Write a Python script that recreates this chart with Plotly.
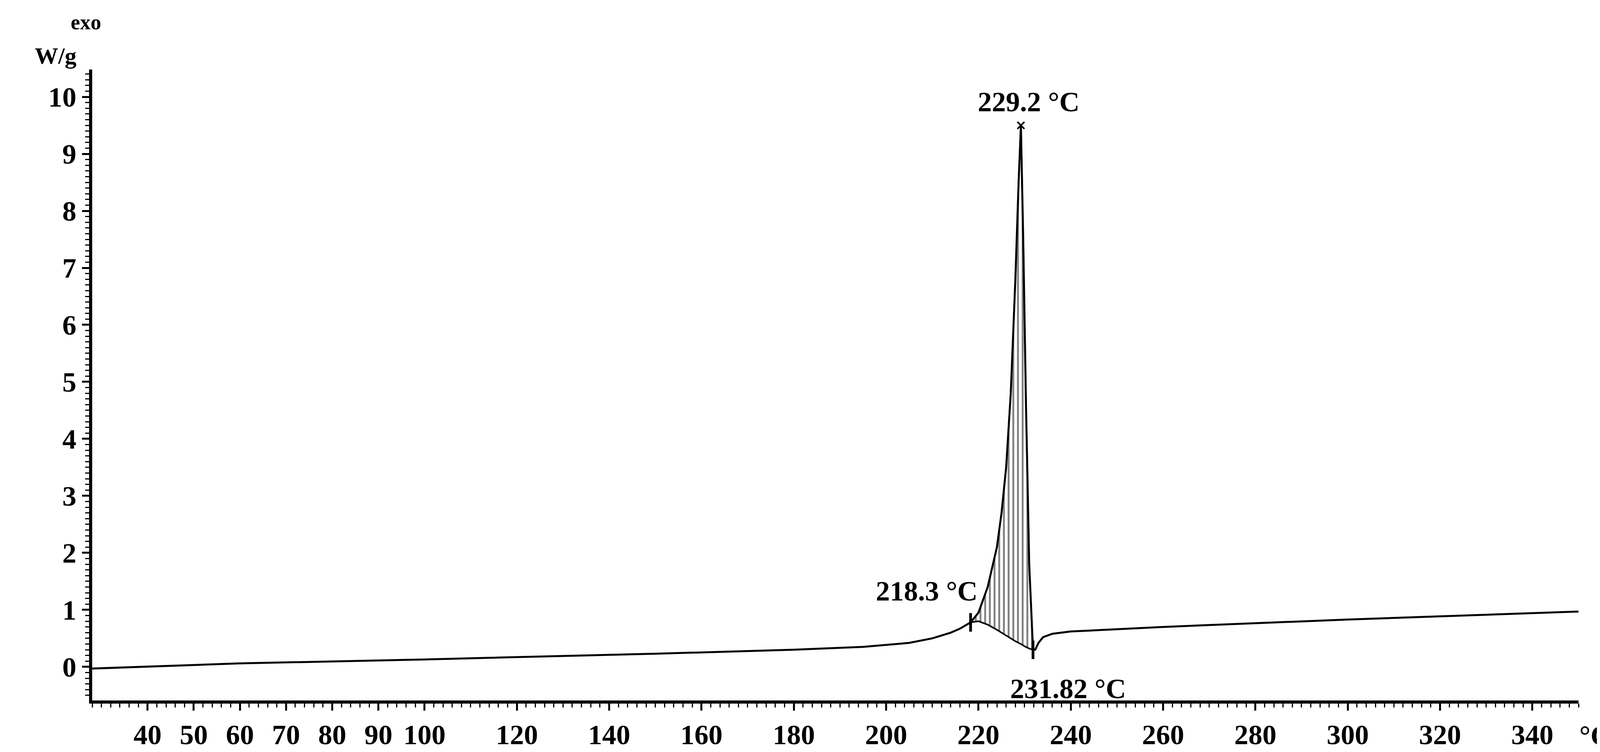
import plotly.graph_objects as go

# DSC curve (heat flow, W/g vs temperature, °C)
temp = [28, 60, 100, 150, 180, 195, 205, 210, 214, 216, 218.3,
        220, 222, 224, 225, 226, 227, 228, 228.7, 229.2, 229.7, 230.3, 231, 231.82,
        232.3, 233, 234, 236, 240, 260, 300, 350]
heat = [-0.03, 0.06, 0.13, 0.23, 0.3, 0.35, 0.42, 0.5, 0.6, 0.67, 0.78,
        0.95, 1.4, 2.1, 2.7, 3.5, 4.8, 6.8, 8.5, 9.5, 7.5, 4.6, 1.8, 0.3,
        0.3, 0.42, 0.52, 0.58, 0.62, 0.7, 0.83, 0.97]

# integration baseline under the peak
base_t = [218.3, 220, 222, 224, 226, 228, 229.2, 230, 231, 231.82]
base_h = [0.78, 0.8, 0.74, 0.65, 0.55, 0.45, 0.4, 0.36, 0.32, 0.3]
peak_t = [218.3, 220, 222, 224, 225, 226, 227, 228, 228.7, 229.2, 229.7, 230.3, 231, 231.82]
peak_h = [0.78, 0.95, 1.4, 2.1, 2.7, 3.5, 4.8, 6.8, 8.5, 9.5, 7.5, 4.6, 1.8, 0.3]

x_ticks = [40, 50, 60, 70, 80, 90, 100, 120, 140, 160, 180, 200, 220, 240, 260, 280, 300, 320, 340]
y_ticks = list(range(0, 11))

serif = "Liberation Serif"
bold = dict(family=serif, size=72, color="black", weight="bold")

fig = go.Figure()
fig.add_trace(go.Scatter(x=base_t, y=base_h, mode="lines",
                         line=dict(color="black", width=4), showlegend=False))
fig.add_trace(go.Scatter(x=peak_t, y=peak_h, mode="lines", fill="tonexty",
                         fillcolor="rgba(0,0,0,0)",
                         fillpattern=dict(shape="|", fgcolor="black", size=12, solidity=0.4),
                         line=dict(color="black", width=4), showlegend=False))
fig.add_trace(go.Scatter(x=temp, y=heat, mode="lines",
                         line=dict(color="black", width=5), showlegend=False))
# marks at the characteristic points
fig.add_trace(go.Scatter(x=[218.3, 231.82], y=[0.78, 0.3], mode="markers",
                         marker=dict(symbol="line-ns", size=34, line=dict(color="black", width=7)),
                         showlegend=False))
fig.add_trace(go.Scatter(x=[229.2], y=[9.5], mode="markers",
                         marker=dict(symbol="x-thin", size=18, line=dict(color="black", width=4)),
                         showlegend=False))

fig.add_annotation(x=229.2, y=9.5, text="229.2 °C", showarrow=False, yshift=60, xshift=20,
                   font=bold)
fig.add_annotation(x=218.3, y=0.78, text="218.3 °C", showarrow=False, xanchor="right",
                   xshift=20, yshift=80, font=bold)
fig.add_annotation(x=231.82, y=0.3, text="231.82 °C", showarrow=False, xanchor="left",
                   xshift=-60, yshift=-100, font=bold)
fig.add_annotation(xref="paper", yref="paper", x=1.0, y=-0.03, text="°C", showarrow=False,
                   xanchor="left", yanchor="top", font=bold)
fig.add_annotation(xref="paper", yref="paper", x=-0.01, y=1.0, text="W/g", showarrow=False,
                   xanchor="right", yanchor="bottom", font=dict(family=serif, size=60, color="black", weight="bold"))
fig.add_annotation(xref="paper", yref="paper", x=-0.015, y=1.055, text="exo", showarrow=False,
                   xanchor="left", yanchor="bottom", font=dict(family=serif, size=54, color="black", weight="bold"))

fig.update_layout(
    width=4203, height=1926,
    margin=dict(l=228, r=170, t=170, b=140),
    paper_bgcolor="white", plot_bgcolor="white",
    font=dict(family=serif, size=72, color="black"),
    xaxis=dict(range=[28, 350], tickvals=x_ticks, showgrid=False, zeroline=False,
               showline=True, linewidth=8, linecolor="black",
               ticks="outside", ticklen=18, tickwidth=5, tickcolor="black",
               tickfont=bold,
               minor=dict(dtick=2, ticks="outside", ticklen=10, tickwidth=3, tickcolor="black")),
    yaxis=dict(range=[-0.59, 10.48], tickvals=y_ticks, showgrid=False, zeroline=False,
               showline=True, linewidth=8, linecolor="black",
               ticks="outside", ticklen=18, tickwidth=5, tickcolor="black",
               tickfont=bold,
               minor=dict(dtick=0.1, ticks="outside", ticklen=10, tickwidth=3, tickcolor="black")),
)

fig.write_html("out.html")
